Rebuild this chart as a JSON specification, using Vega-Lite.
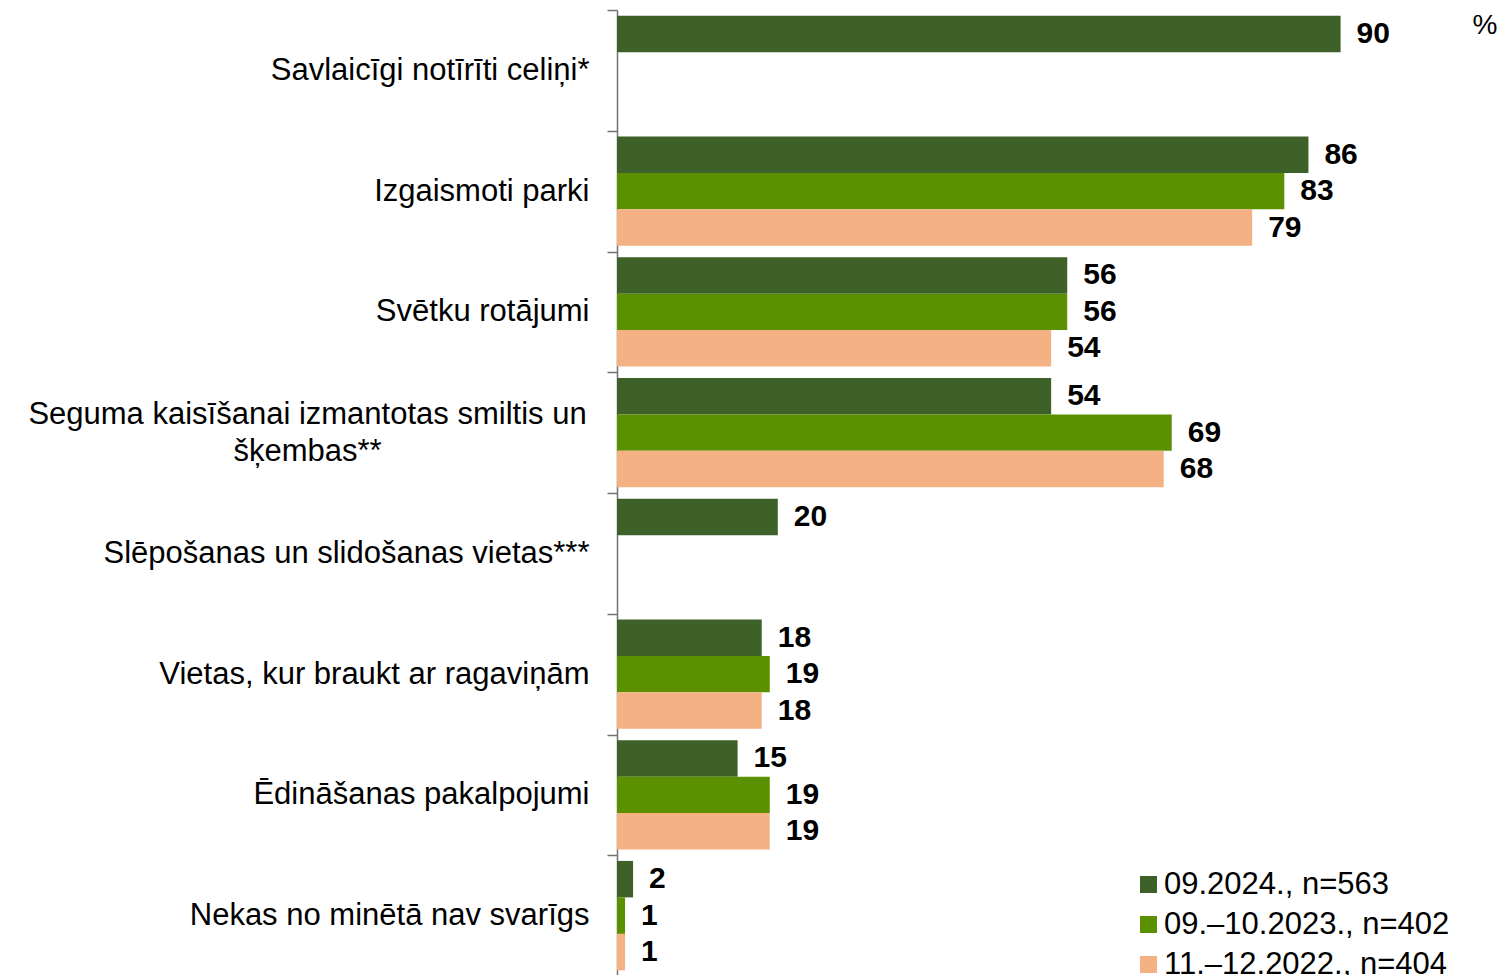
{
  "$schema": "https://vega.github.io/schema/vega-lite/v6.json",
  "width": 804,
  "height": 966,
  "autosize": {"type": "none"},
  "padding": {"left": 617, "top": 10, "right": 88, "bottom": 0},
  "background": "white",
  "config": {"view": {"stroke": null}, "font": "Liberation Sans"},
  "title": {"text": "%", "orient": "top", "anchor": "end", "frame": "group", "align": "center", "baseline": "top", "dx": 64, "dy": 46, "offset": 0, "fontSize": 28, "fontWeight": "normal", "color": "black"},
  "data": {
    "values": [
      {"item": "Savlaicīgi notīrīti celiņi*", "series": "09.2024., n=563", "value": 90},
      {"item": "Izgaismoti parki", "series": "09.2024., n=563", "value": 86},
      {"item": "Izgaismoti parki", "series": "09.–10.2023., n=402", "value": 83},
      {"item": "Izgaismoti parki", "series": "11.–12.2022., n=404", "value": 79},
      {"item": "Svētku rotājumi", "series": "09.2024., n=563", "value": 56},
      {"item": "Svētku rotājumi", "series": "09.–10.2023., n=402", "value": 56},
      {"item": "Svētku rotājumi", "series": "11.–12.2022., n=404", "value": 54},
      {"item": "Seguma kaisīšanai izmantotas smiltis un šķembas**", "series": "09.2024., n=563", "value": 54},
      {"item": "Seguma kaisīšanai izmantotas smiltis un šķembas**", "series": "09.–10.2023., n=402", "value": 69},
      {"item": "Seguma kaisīšanai izmantotas smiltis un šķembas**", "series": "11.–12.2022., n=404", "value": 68},
      {"item": "Slēpošanas un slidošanas vietas***", "series": "09.2024., n=563", "value": 20},
      {"item": "Vietas, kur braukt ar ragaviņām", "series": "09.2024., n=563", "value": 18},
      {"item": "Vietas, kur braukt ar ragaviņām", "series": "09.–10.2023., n=402", "value": 19},
      {"item": "Vietas, kur braukt ar ragaviņām", "series": "11.–12.2022., n=404", "value": 18},
      {"item": "Ēdināšanas pakalpojumi", "series": "09.2024., n=563", "value": 15},
      {"item": "Ēdināšanas pakalpojumi", "series": "09.–10.2023., n=402", "value": 19},
      {"item": "Ēdināšanas pakalpojumi", "series": "11.–12.2022., n=404", "value": 19},
      {"item": "Nekas no minētā nav svarīgs", "series": "09.2024., n=563", "value": 2},
      {"item": "Nekas no minētā nav svarīgs", "series": "09.–10.2023., n=402", "value": 1},
      {"item": "Nekas no minētā nav svarīgs", "series": "11.–12.2022., n=404", "value": 1}
    ]
  },
  "encoding": {
    "y": {
      "field": "item",
      "type": "nominal",
      "sort": ["Savlaicīgi notīrīti celiņi*", "Izgaismoti parki", "Svētku rotājumi", "Seguma kaisīšanai izmantotas smiltis un šķembas**", "Slēpošanas un slidošanas vietas***", "Vietas, kur braukt ar ragaviņām", "Ēdināšanas pakalpojumi", "Nekas no minētā nav svarīgs"],
      "scale": {"paddingInner": 0, "paddingOuter": 0},
      "axis": {
        "title": null,
        "domainColor": "#737373",
        "domainWidth": 1.5,
        "tickColor": "#737373",
        "tickWidth": 1.5,
        "tickSize": 10,
        "tickBand": "extent",
        "labelFontSize": 31,
        "labelColor": "black",
        "labelLimit": 800,
        "labelLineHeight": 37,
        "labelExpr": "datum.value == 'Seguma kaisīšanai izmantotas smiltis un šķembas**' ? ['Seguma kaisīšanai izmantotas smiltis un', 'šķembas**'] : datum.label",
        "labelAlign": {"condition": {"test": "datum.value == 'Seguma kaisīšanai izmantotas smiltis un šķembas**'", "value": "center"}, "value": "right"},
        "labelPadding": {"condition": {"test": "datum.value == 'Seguma kaisīšanai izmantotas smiltis un šķembas**'", "value": 300}, "value": 18},
        "labelOffset": {"condition": {"test": "datum.value == 'Seguma kaisīšanai izmantotas smiltis un šķembas**'", "value": -18}, "value": 0}
      }
    },
    "yOffset": {
      "field": "series",
      "type": "nominal",
      "sort": ["09.2024., n=563", "09.–10.2023., n=402", "11.–12.2022., n=404"],
      "scale": {"paddingOuter": 0.155, "paddingInner": 0}
    },
    "x": {"field": "value", "type": "quantitative", "scale": {"domain": [0, 100]}, "axis": null}
  },
  "layer": [
    {
      "mark": {"type": "bar"},
      "encoding": {
        "color": {
          "field": "series",
          "type": "nominal",
          "sort": ["09.2024., n=563", "09.–10.2023., n=402", "11.–12.2022., n=404"],
          "scale": {"domain": ["09.2024., n=563", "09.–10.2023., n=402", "11.–12.2022., n=404"], "range": ["#3E6129", "#5B9000", "#F4B183"]},
          "legend": {
            "title": null,
            "orient": "none",
            "legendX": 516,
            "legendY": 859,
            "symbolType": "square",
            "symbolSize": 289,
            "symbolStrokeWidth": 0,
            "labelFontSize": 31,
            "labelColor": "black",
            "labelLimit": 500,
            "labelOffset": 0,
            "rowPadding": 8
          }
        }
      }
    },
    {
      "mark": {"type": "text", "align": "left", "baseline": "middle", "dx": 16, "fontSize": 30, "fontWeight": "bold", "color": "black"},
      "encoding": {"text": {"field": "value", "type": "quantitative"}}
    }
  ]
}
